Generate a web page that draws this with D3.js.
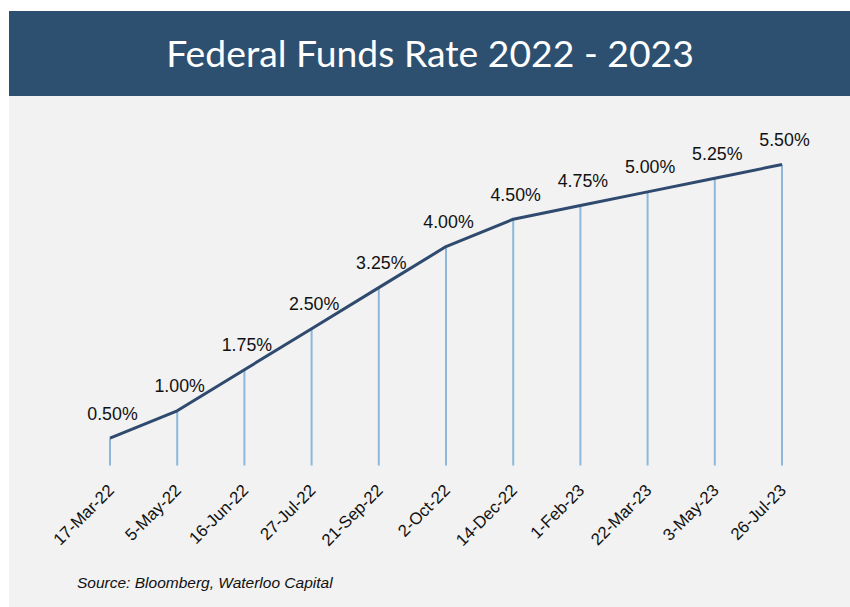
<!DOCTYPE html>
<html>
<head>
<meta charset="utf-8">
<script src="https://cdn.jsdelivr.net/npm/d3@7"></script>
<style>
  html, body { margin: 0; padding: 0; background: #ffffff; }
  svg { display: block; }
</style>
</head>
<body>
<svg id="chart" width="850" height="607"></svg>
<script>
// Federal funds rate decisions, 2022-2023
const dates = ["17-Mar-22", "5-May-22", "16-Jun-22", "27-Jul-22", "21-Sep-22", "2-Oct-22",
               "14-Dec-22", "1-Feb-23", "22-Mar-23", "3-May-23", "26-Jul-23"];
const rates = [0.50, 1.00, 1.75, 2.50, 3.25, 4.00, 4.50, 4.75, 5.00, 5.25, 5.50];
const titleText = "Federal Funds Rate 2022 - 2023";
const sourceText = "Source: Bloomberg, Waterloo Capital";

const data = dates.map((d, i) => ({ date: d, rate: rates[i] }));

const svg = d3.select("#chart");

// panel background and header band
svg.append("rect").attr("x", 9).attr("y", 11).attr("width", 841).attr("height", 596)
  .attr("fill", "#f1f2f1");
svg.append("rect").attr("x", 9).attr("y", 11).attr("width", 841).attr("height", 85)
  .attr("fill", "#2e5070");
svg.append("text").attr("x", 430).attr("y", 66.5)
  .attr("text-anchor", "middle")
  .attr("font-family", "Lato, sans-serif").attr("font-size", 37.3)
  .attr("fill", "#ffffff")
  .text(titleText);

const x = d3.scalePoint().domain(dates).range([110, 782]);
const y = d3.scaleLinear().domain([0, 5.5]).range([465.5, 164.5]);

// vertical drop lines from the baseline to each point
svg.append("g").selectAll("line").data(data).join("line")
  .attr("x1", d => x(d.date)).attr("x2", d => x(d.date))
  .attr("y1", y(0)).attr("y2", d => y(d.rate))
  .attr("stroke", "#8db8db").attr("stroke-width", 2);

// rate line
const line = d3.line().x(d => x(d.date)).y(d => y(d.rate));
svg.append("path").datum(data)
  .attr("d", line)
  .attr("fill", "none")
  .attr("stroke", "#2f4a6e").attr("stroke-width", 3)
  .attr("stroke-linejoin", "round");

// value labels
svg.append("g").selectAll("text").data(data).join("text")
  .attr("x", d => x(d.date) + 2.5)
  .attr("y", d => y(d.rate) - 18.5)
  .attr("text-anchor", "middle")
  .attr("font-family", "'Liberation Sans', Arial, sans-serif").attr("font-size", 17.8)
  .attr("fill", "#111111")
  .text(d => d.rate.toFixed(2) + "%");

// rotated date labels using a bottom axis with hidden domain/ticks
const axis = svg.append("g").attr("transform", `translate(0,${y(0)})`)
  .call(d3.axisBottom(x).tickSize(0).tickPadding(0));
axis.select(".domain").remove();
axis.selectAll("text")
  .attr("font-family", "'Liberation Sans', Arial, sans-serif").attr("font-size", 16.8)
  .attr("fill", "#111111")
  .attr("text-anchor", "end")
  .attr("y", 0)
  .attr("dy", null)
  .attr("transform", "translate(4.5,26) rotate(-45)");

// source note
svg.append("text").attr("x", 77).attr("y", 588)
  .attr("font-family", "'Liberation Sans', Arial, sans-serif").attr("font-size", 15.5)
  .attr("font-style", "italic").attr("fill", "#111111")
  .text(sourceText);
</script>
</body>
</html>
